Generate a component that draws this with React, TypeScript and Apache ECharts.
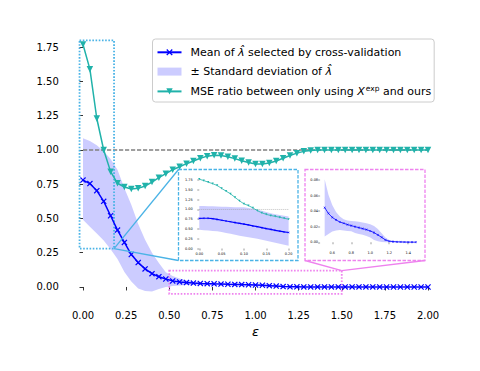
import React, { useEffect, useRef } from "react";
import * as echarts from "echarts";

// ---- data ----
const epsilon = [
  0.0, 0.04, 0.08, 0.12, 0.16, 0.2, 0.24, 0.28, 0.32, 0.36, 0.4, 0.44, 0.48, 0.52, 0.56, 0.6, 0.64,
  0.68, 0.72, 0.76, 0.8, 0.84, 0.88, 0.92, 0.96, 1.0, 1.04, 1.08, 1.12, 1.16, 1.2, 1.24, 1.28, 1.32,
  1.36, 1.4, 1.44, 1.48, 1.52, 1.56, 1.6, 1.64, 1.68, 1.72, 1.76, 1.8, 1.84, 1.88, 1.92, 1.96, 2.0,
];
const meanLambda = [
  0.78, 0.755, 0.703, 0.625, 0.52, 0.415, 0.325, 0.237, 0.178, 0.132, 0.097, 0.075, 0.058, 0.0445,
  0.037, 0.032, 0.0287, 0.026, 0.0244, 0.0227, 0.0214, 0.02, 0.0188, 0.0175, 0.0163, 0.0145, 0.0124,
  0.0094, 0.0064, 0.003, 0.0013, 0.0009, 0.0006, 0.0004, 0.0003, 0.0002, 0.0002, 0.0001, 0.0001,
  0.0001, 0.0001, 0.0001, 0.0001, 0.0001, 0, 0, 0, 0, 0, 0, 0,
];
const meanPlusStd = [
  1.085, 1.065, 1.035, 0.99, 0.935, 0.855, 0.72, 0.6, 0.46, 0.345, 0.25, 0.175, 0.108, 0.081, 0.061,
  0.048, 0.039, 0.033, 0.0295, 0.028, 0.0274, 0.027, 0.0265, 0.0255, 0.0244, 0.023, 0.021, 0.017,
  0.0115, 0.006, 0.003, 0.0015, 0.001, 0.0008, 0.0006, 0.0005, 0.0004, 0.0003, 0.0002, 0.0002,
  0.0002, 0.0001, 0.0001, 0.0001, 0.0001, 0.0001, 0.0001, 0.0001, 0.0001, 0.0001, 0.0001,
];
const meanMinusStd = [
  0.49, 0.44, 0.39, 0.34, 0.275, 0.205, 0.11, 0.04, -0.012, -0.03, -0.033, -0.015, 0.0, 0.0073,
  0.0107, 0.0137, 0.015, 0.0158, 0.015, 0.0145, 0.014, 0.012, 0.0107, 0.0095, 0.008, 0.006, 0.003,
  0.0013, 0.0004, 0.0001, 0, 0, 0, 0, 0, 0, 0, 0, 0, 0, 0, 0, 0, 0, 0, 0, 0, 0, 0, 0, 0,
];
const mseRatio = [
  1.77, 1.59, 1.23, 1.0, 0.842, 0.757, 0.73, 0.715, 0.72, 0.737, 0.766, 0.798, 0.827, 0.856, 0.878,
  0.9, 0.92, 0.94, 0.955, 0.962, 0.96, 0.95, 0.937, 0.922, 0.908, 0.898, 0.897, 0.905, 0.92, 0.94,
  0.96, 0.977, 0.99, 0.997, 1.0, 1.0, 1.0, 1.0, 1.0, 1.0, 1.0, 1.0, 1.0, 1.0, 1.0, 1.0, 1.0, 1.0,
  1.0, 1.0, 1.0,
];
const referenceLevel = 1.0;

// zoom-in inset for small epsilon
const insetEpsilon = [
  0.0, 0.01, 0.02, 0.03, 0.04, 0.05, 0.06, 0.07, 0.08, 0.09, 0.1, 0.11, 0.12, 0.13, 0.14, 0.15, 0.16,
  0.17, 0.18, 0.19, 0.2,
];
const insetMse = [
  1.776, 1.74, 1.7, 1.66, 1.615, 1.54, 1.47, 1.4, 1.31, 1.22, 1.145, 1.1, 1.04, 0.97, 0.915, 0.875,
  0.845, 0.825, 0.8, 0.775, 0.75,
];
const insetMean = [
  0.77, 0.775, 0.775, 0.765, 0.745, 0.725, 0.705, 0.685, 0.665, 0.645, 0.625, 0.605, 0.58, 0.56,
  0.535, 0.51, 0.49, 0.465, 0.445, 0.425, 0.41,
];
const insetUpper = [
  1.09, 1.09, 1.085, 1.08, 1.075, 1.07, 1.07, 1.065, 1.06, 1.06, 1.055, 1.04, 1.02, 0.995, 0.965,
  0.935, 0.905, 0.88, 0.86, 0.84, 0.82,
];
const insetLower = [
  0.478, 0.47, 0.46, 0.45, 0.44, 0.425, 0.4, 0.38, 0.355, 0.33, 0.305, 0.29, 0.27, 0.25, 0.225, 0.2,
  0.175, 0.15, 0.125, 0.095, 0.068,
];
// second inset shows epsilon in [0.5, 1.5]
const inset2Range = [0.5, 1.5];

// zoom boxes (data coordinates of main axes)
const box1 = [-0.02, 0.28, 0.18, 1.8];
const box2 = [0.5, -0.05, 1.5, 0.12];

const mainXTicks = [0, 0.25, 0.5, 0.75, 1.0, 1.25, 1.5, 1.75, 2.0];
const mainYTicks = [0, 0.25, 0.5, 0.75, 1.0, 1.25, 1.5, 1.75];
const inset1XTicks = [0, 0.05, 0.1, 0.15, 0.2];
const inset1YTicks = [0, 0.25, 0.5, 0.75, 1.0, 1.25, 1.5, 1.75];
const inset2XTicks = [0.6, 0.8, 1.0, 1.2, 1.4];
const inset2YTicks = [0, 0.02, 0.04, 0.06, 0.08];

const N1 = "mean";
const N2 = "std";
const N3 = "mse";

const BLUE = "#0000ff";
const TEAL = "#20b2aa";
const BAND = "rgba(0,0,255,0.2)";
const CYAN = "#4ab3e6";
const PINK = "#ee82ee";
const FONT = "DejaVu Sans";

const XPATH =
  "path://M0,1.4L1.4,0L5,3.6L8.6,0L10,1.4L6.4,5L10,8.6L8.6,10L5,6.4L1.4,10L0,8.6L3.6,5Z";

function pairs(xs: number[], ys: number[]) {
  return xs.map((x, i) => [x, ys[i]]);
}

function bandSeries(xs: number[], lo: number[], hi: number[], xi: number, name?: string): any {
  return {
    type: "custom",
    name,
    xAxisIndex: xi,
    yAxisIndex: xi,
    silent: true,
    z: 1,
    itemStyle: { color: BAND },
    data: xs.map((x, i) => [x, lo[i], hi[i]]),
    encode: { x: 0, y: [1, 2] },
    renderItem: (params: any, api: any) => {
      if (params.dataIndex !== 0) return null;
      const pts: number[][] = [];
      for (let i = 0; i < xs.length; i++) pts.push(api.coord([xs[i], hi[i]]));
      for (let i = xs.length - 1; i >= 0; i--) pts.push(api.coord([xs[i], lo[i]]));
      return { type: "polygon", shape: { points: pts }, style: { fill: BAND } };
    },
  };
}

function boxSeries(b: number[], color: string): any {
  return {
    type: "custom",
    xAxisIndex: 0,
    yAxisIndex: 0,
    silent: true,
    z: 3,
    data: [b],
    encode: { x: [0, 2], y: [1, 3] },
    renderItem: (_p: any, api: any) => {
      const a = api.coord([api.value(0), api.value(3)]);
      const c = api.coord([api.value(2), api.value(1)]);
      return {
        type: "rect",
        shape: { x: a[0], y: a[1], width: c[0] - a[0], height: c[1] - a[1] },
        style: { fill: "none", stroke: color, lineWidth: 1.8, lineDash: [1.6, 1.6] },
      };
    },
  };
}

function valueAxis(
  gridIndex: number,
  min: number,
  max: number,
  ticks: number[],
  digits: number,
  fontSize: number,
  tickLen: number,
  margin: number,
  extra: any = {}
): any {
  return {
    type: "value",
    gridIndex,
    min,
    max,
    axisLine: { show: false },
    splitLine: { show: false },
    axisTick: {
      show: true,
      length: tickLen,
      customValues: ticks,
      lineStyle: { color: "#000", width: fontSize > 5 ? 0.8 : 0.4 },
    },
    axisLabel: {
      customValues: ticks,
      formatter: (v: number) => v.toFixed(digits),
      fontSize,
      fontFamily: FONT,
      color: "#000",
      margin,
      hideOverlap: false,
      showMinLabel: true,
      showMaxLabel: true,
    },
    ...extra,
  };
}

export default function App() {
  const ref = useRef<HTMLDivElement>(null);
  useEffect(() => {
    if (!ref.current) return;
    const chart = echarts.init(ref.current, undefined, { renderer: "svg" });

    const idx2 = epsilon
      .map((x, i) => i)
      .filter((i) => epsilon[i] > inset2Range[0] && epsilon[i] < inset2Range[1]);
    const eps2 = idx2.map((i) => epsilon[i]);
    const mean2 = idx2.map((i) => meanLambda[i]);
    const lo2 = idx2.map((i) => meanMinusStd[i]);
    const hi2 = idx2.map((i) => meanPlusStd[i]);

    const option: any = {
      animation: false,
      backgroundColor: "#fff",
      textStyle: { fontFamily: FONT },
      grid: [
        { left: 65.75, top: 28.07, width: 379.5, height: 276.3 },
        { left: 194.8, top: 175.9, width: 98.3, height: 73.8 },
        { left: 320.1, top: 175.3, width: 100.3, height: 73.2 },
      ],
      xAxis: [
        valueAxis(0, -0.1, 2.1, mainXTicks, 2, 10, 3.5, 6, {
          name: "ε",
          nameLocation: "middle",
          nameGap: 20,
          nameTextStyle: { fontSize: 13, fontStyle: "italic", fontFamily: FONT, color: "#000" },
        }),
        valueAxis(1, -0.01, 0.21, inset1XTicks, 2, 3.5, 2, 2.5),
        valueAxis(2, 0.472, 1.528, inset2XTicks, 1, 3.5, 2, 2.5),
      ],
      yAxis: [
        valueAxis(0, -0.127, 1.89, mainYTicks, 2, 10, 3.5, 7),
        valueAxis(1, -0.03, 1.86, inset1YTicks, 2, 3.5, 2, 2),
        valueAxis(2, -0.008, 0.086, inset2YTicks, 2, 3.5, 2, 2),
      ],
      legend: {
        orient: "vertical",
        left: 152.5,
        top: 39,
        itemWidth: 24,
        itemHeight: 8,
        itemGap: 6.3,
        padding: [6.8, 3, 3.6, 4],
        backgroundColor: "rgba(255,255,255,0.8)",
        borderColor: "#cccccc",
        borderWidth: 1,
        borderRadius: 3,
        data: [{ name: N1 }, { name: N2, icon: "rect" }, { name: N3 }],
        formatter: (name: string) => {
          if (name === N1) return "Mean of {m|λ̂} selected by cross-validation";
          if (name === N2) return "± Standard deviation of {m|λ̂}";
          return "MSE ratio between only using {m|X}{sup|exp} and ours";
        },
        textStyle: {
          fontFamily: FONT,
          fontSize: 11,
          color: "#000",
          lineHeight: 13,
          padding: [0, 0, 0, 4],
          rich: {
            m: { fontFamily: FONT, fontSize: 11, fontStyle: "italic", color: "#000", lineHeight: 13 },
            sup: {
              fontFamily: FONT,
              fontSize: 7.5,
              fontStyle: "normal",
              color: "#000",
              padding: [0, 0, 6, 1],
              lineHeight: 13,
            },
          },
        },
      },
      series: [
        bandSeries(epsilon, meanMinusStd, meanPlusStd, 0, N2),
        boxSeries(box1, CYAN),
        boxSeries(box2, PINK),
        {
          type: "line",
          xAxisIndex: 0,
          yAxisIndex: 0,
          data: [
            [epsilon[0], referenceLevel],
            [epsilon[epsilon.length - 1], referenceLevel],
          ],
          showSymbol: false,
          silent: true,
          z: 2,
          lineStyle: { color: "#808080", width: 1.3, type: [4.2, 1.8] },
        },
        {
          type: "line",
          name: N3,
          xAxisIndex: 0,
          yAxisIndex: 0,
          data: pairs(epsilon, mseRatio),
          symbol: "triangle",
          symbolRotate: 180,
          symbolSize: 6.5,
          z: 5,
          lineStyle: { color: TEAL, width: 1.5 },
          itemStyle: { color: TEAL },
        },
        {
          type: "line",
          name: N1,
          xAxisIndex: 0,
          yAxisIndex: 0,
          data: pairs(epsilon, meanLambda),
          symbol: XPATH,
          symbolSize: 6,
          z: 6,
          lineStyle: { color: BLUE, width: 1.5 },
          itemStyle: { color: BLUE },
        },
        // inset 1
        bandSeries(insetEpsilon, insetLower, insetUpper, 1),
        {
          type: "line",
          xAxisIndex: 1,
          yAxisIndex: 1,
          data: [
            [insetEpsilon[0], referenceLevel],
            [insetEpsilon[insetEpsilon.length - 1], referenceLevel],
          ],
          showSymbol: false,
          silent: true,
          z: 2,
          lineStyle: { color: "#999", width: 0.6, type: [1, 1] },
        },
        {
          type: "line",
          xAxisIndex: 1,
          yAxisIndex: 1,
          data: pairs(insetEpsilon, insetMse),
          symbol: "triangle",
          symbolRotate: 180,
          symbolSize: 2.2,
          silent: true,
          z: 5,
          lineStyle: { color: TEAL, width: 0.8 },
          itemStyle: { color: TEAL },
        },
        {
          type: "line",
          xAxisIndex: 1,
          yAxisIndex: 1,
          data: pairs(insetEpsilon, insetMean),
          symbol: XPATH,
          symbolSize: 2,
          silent: true,
          z: 6,
          lineStyle: { color: BLUE, width: 1.2 },
          itemStyle: { color: BLUE },
        },
        // inset 2
        bandSeries(eps2, lo2, hi2, 2),
        {
          type: "line",
          xAxisIndex: 2,
          yAxisIndex: 2,
          data: pairs(eps2, mean2),
          symbol: XPATH,
          symbolSize: 2.2,
          silent: true,
          z: 6,
          lineStyle: { color: BLUE, width: 0.8 },
          itemStyle: { color: BLUE },
        },
      ],
    };
    chart.setOption(option);

    const c1 = chart.convertToPixel({ gridIndex: 0 }, [box1[2], box1[1]]) as number[];
    const c2 = chart.convertToPixel({ gridIndex: 0 }, [box2[2], box2[3]]) as number[];
    const f1 = { x: 178.5, y: 169.5, w: 119.5, h: 91 };
    const f2 = { x: 305, y: 169.5, w: 120, h: 91 };
    const frameStyle = (color: string) => ({
      fill: "none",
      stroke: color,
      lineWidth: 1.3,
      lineDash: [3.5, 1.5],
    });
    chart.setOption({
      graphic: [
        { type: "rect", shape: { x: f1.x, y: f1.y, width: f1.w, height: f1.h }, style: frameStyle(CYAN), z: 10 },
        { type: "rect", shape: { x: f2.x, y: f2.y, width: f2.w, height: f2.h }, style: frameStyle(PINK), z: 10 },
        { type: "line", shape: { x1: c1[0], y1: c1[1], x2: f1.x, y2: f1.y }, style: { stroke: CYAN, lineWidth: 1.3 }, z: 10 },
        { type: "line", shape: { x1: c1[0], y1: c1[1], x2: f1.x, y2: f1.y + f1.h }, style: { stroke: CYAN, lineWidth: 1.3 }, z: 10 },
        { type: "line", shape: { x1: c2[0], y1: c2[1], x2: f2.x, y2: f2.y + f2.h }, style: { stroke: PINK, lineWidth: 1.3 }, z: 10 },
        { type: "line", shape: { x1: c2[0], y1: c2[1], x2: f2.x + f2.w, y2: f2.y + f2.h }, style: { stroke: PINK, lineWidth: 1.3 }, z: 10 },
      ],
    });

    return () => chart.dispose();
  }, []);
  return (
    <div
      ref={ref}
      style={{ position: "absolute", left: 0, top: 0, width: 480, height: 371 }}
    />
  );
}
